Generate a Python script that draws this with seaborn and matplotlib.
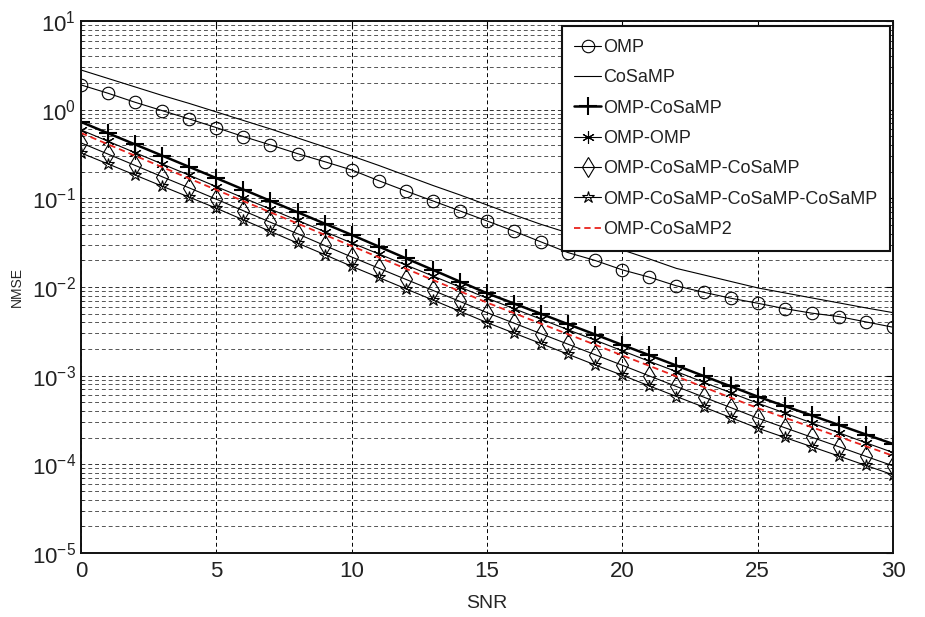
import numpy as np
import pandas as pd
import matplotlib
matplotlib.use("Agg")
import matplotlib.pyplot as plt
import seaborn as sns
from matplotlib.ticker import LogLocator, FixedLocator, NullFormatter

snr = list(range(0, 31))

omp = [1.90, 1.53, 1.21, 0.975, 0.785, 0.627, 0.497, 0.40, 0.319, 0.259, 0.209,
       0.158, 0.121, 0.0935, 0.0721, 0.0556, 0.0426, 0.0322, 0.0244, 0.0199, 0.0156,
       0.0129, 0.0103, 0.00873, 0.00748, 0.00656, 0.0057, 0.00507, 0.00464, 0.00404, 0.00352]

cosamp = [2.80, 2.247, 1.803, 1.446, 1.175, 0.942, 0.755, 0.606, 0.480, 0.380, 0.3006,
          0.2349, 0.1813, 0.1397, 0.1092, 0.0842, 0.0650, 0.0508, 0.0407, 0.0327, 0.0262,
          0.0207, 0.0162, 0.0137, 0.01156, 0.00977, 0.00858, 0.00753, 0.00662, 0.00581, 0.00514]

omp_cosamp = [0.726, 0.542, 0.405, 0.303, 0.226, 0.169, 0.1256, 0.0935, 0.0697, 0.0519, 0.0387,
              0.0286, 0.0211, 0.0156, 0.0115, 0.00851, 0.00650, 0.00498, 0.00380, 0.00291, 0.00222,
              0.00170, 0.00130, 0.000993, 0.000759, 0.000581, 0.000454, 0.000356, 0.000278, 0.000217, 0.000170]

omp_omp = [0.590, 0.440, 0.327, 0.244, 0.182, 0.1355, 0.1012, 0.0755, 0.0564, 0.0421, 0.0314,
           0.0236, 0.0177, 0.0133, 0.00998, 0.00748, 0.00569, 0.00433, 0.00329, 0.00251, 0.00191,
           0.00145, 0.00111, 0.000843, 0.000643, 0.000490, 0.000379, 0.000293, 0.000227, 0.000175, 0.000136]

omp_cosamp_cosamp = [0.422, 0.315, 0.235, 0.175, 0.131, 0.0977, 0.0724, 0.0537, 0.0398, 0.0294, 0.0218,
                     0.0163, 0.0122, 0.00916, 0.00687, 0.00514, 0.00391, 0.00297, 0.00226, 0.00172, 0.00131,
                     0.000993, 0.000755, 0.000574, 0.000437, 0.000332, 0.000259, 0.000202, 0.000158, 0.000123, 0.0000962]

omp_cosamp3 = [0.325, 0.244, 0.183, 0.137, 0.103, 0.0773, 0.0571, 0.0423, 0.0313, 0.0232, 0.0171,
               0.0128, 0.00955, 0.00713, 0.00532, 0.00397, 0.00302, 0.00230, 0.00174, 0.00132, 0.00101,
               0.000766, 0.000582, 0.000443, 0.000337, 0.000256, 0.000201, 0.000158, 0.000124, 0.0000971, 0.0000762]

omp_cosamp2 = [0.546, 0.406, 0.302, 0.225, 0.167, 0.1245, 0.0931, 0.0695, 0.0520, 0.0388, 0.0290,
               0.0216, 0.0161, 0.0120, 0.00895, 0.00667, 0.00507, 0.00385, 0.00293, 0.00223, 0.00169,
               0.00129, 0.000979, 0.000745, 0.000566, 0.000431, 0.000336, 0.000262, 0.000205, 0.000160, 0.000125]

labels = ["OMP", "CoSaMP", "OMP-CoSaMP", "OMP-OMP", "OMP-CoSaMP-CoSaMP",
          "OMP-CoSaMP-CoSaMP-CoSaMP", "OMP-CoSaMP2"]
series = [omp, cosamp, omp_cosamp, omp_omp, omp_cosamp_cosamp, omp_cosamp3, omp_cosamp2]

sns.set_style("white")
plt.rcParams['font.family'] = ['Liberation Sans', 'DejaVu Sans']
plt.rcParams['mathtext.fontset'] = 'custom'
plt.rcParams['mathtext.rm'] = 'Liberation Sans'
plt.rcParams['mathtext.it'] = 'Liberation Sans:italic'
plt.rcParams['mathtext.bf'] = 'Liberation Sans:bold'

fig = plt.figure(figsize=(9.25, 6.17), dpi=100)
ax = fig.add_axes([0.0876, 0.1037, 0.8778, 0.8623])

mk = dict(markeredgecolor='k', markerfacecolor='none')
styles = [
    dict(color='k', lw=0.8, marker='o', markersize=9, markeredgewidth=0.8, **mk),
    dict(color='k', lw=0.8),
    dict(color='k', lw=1.8, marker='+', markersize=13, markeredgewidth=1.5, **mk),
    dict(color='k', lw=0.8, marker=(6, 2, 0), markersize=9, markeredgewidth=0.8, **mk),
    dict(color='k', lw=0.8, marker='d', markersize=10, markeredgewidth=0.8, **mk),
    dict(color='k', lw=0.8, marker='*', markersize=9, markeredgewidth=0.8, **mk),
    dict(color='#e8231e', lw=1.3, linestyle=(0, (3.5, 2.2))),
]

order = [1, 0, 2, 3, 4, 5, 6]
handles = [None] * len(series)
for i in order:
    df = pd.DataFrame({"SNR": snr, "NMSE": series[i]})
    before = len(ax.lines)
    sns.lineplot(data=df, x="SNR", y="NMSE", ax=ax, label=labels[i], legend=False, **styles[i])
    handles[i] = ax.lines[before]

ax.set_yscale('log')
ax.set_xlim(0, 30)
ax.set_ylim(1e-5, 10)
ax.xaxis.set_major_locator(FixedLocator([0, 5, 10, 15, 20, 25, 30]))
ax.yaxis.set_major_locator(LogLocator(base=10, numticks=10))
ax.yaxis.set_minor_locator(LogLocator(base=10, subs=np.arange(2, 10), numticks=20))
ax.yaxis.set_minor_formatter(NullFormatter())

ax.grid(True, which='major', axis='x', color='k', linestyle=(0, (4, 3)), lw=0.7)
ax.grid(True, which='major', axis='y', color='#333333', linestyle=(0, (4, 3)), lw=0.7)
ax.grid(True, which='minor', axis='y', color='#555555', linestyle=(0, (4, 3)), lw=0.7)
ax.set_axisbelow(True)

ax.tick_params(axis='both', which='major', direction='in', length=5, width=0.8,
               labelsize=16, top=True, right=True, colors='k', labelcolor='#222222')
ax.tick_params(axis='y', which='minor', direction='in', length=2.5, width=0.6, left=True, right=True)
ax.tick_params(axis='x', which='major', pad=6)
for sp in ax.spines.values():
    sp.set_color('#111111')
    sp.set_linewidth(1.4)

ax.set_xlabel("SNR", fontsize=14, labelpad=9)
ax.set_ylabel("NMSE", fontsize=10, labelpad=6)

leg = ax.legend(handles=handles, labels=labels, loc='upper right',
                bbox_to_anchor=(0.9965, 0.99), borderaxespad=0,
                fontsize=13, handlelength=1.5, handletextpad=0.1,
                labelspacing=0.74, borderpad=0.7, fancybox=False, framealpha=1,
                edgecolor='#111111')
leg.get_frame().set_linewidth(1.5)
for t in leg.get_texts():
    t.set_color('#222222')

fig.savefig("out.png", dpi=100)
